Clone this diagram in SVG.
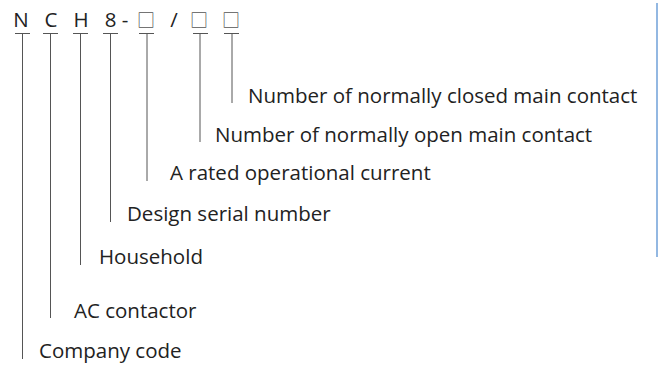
<svg xmlns="http://www.w3.org/2000/svg" width="658" height="367" viewBox="0 0 658 367">
<style>
.code{font-family:"Open Sans","Noto Sans",sans-serif;font-size:20.5px;fill:#222;text-anchor:middle}
.box{font-family:"Noto Sans CJK SC","DejaVu Sans",sans-serif;font-size:18px;fill:#555;text-anchor:middle}
.lbl{font-family:"Open Sans","Noto Sans",sans-serif;font-size:20.5px;fill:#222}
.ln{stroke:#555;stroke-width:1;fill:none}
</style>
<rect width="658" height="367" fill="#fff"/>
<g id="code">
<text class="code" x="21" y="27">N</text>
<text class="code" x="51" y="27">C</text>
<text class="code" x="81" y="27">H</text>
<text class="code" x="110.5" y="27">8</text>
<text class="code" x="125" y="27">-</text>
<text class="box" x="146" y="27">□</text>
<text class="code" x="174" y="27">/</text>
<text class="box" x="199" y="27">□</text>
<text class="box" x="231" y="27">□</text>
</g>
<g id="connectors">
<path class="ln" d="M15 33.5H30M22.5 33.5V359"/>
<path class="ln" d="M43 33.5H58M50.5 33.5V318"/>
<path class="ln" d="M73 33.5H88M80.5 33.5V265"/>
<path class="ln" d="M103 33.5H118M110.5 33.5V222"/>
<path class="ln" d="M139 33.5H154M147 33.5V181"/>
<path class="ln" d="M193 33.5H208M200 33.5V142"/>
<path class="ln" d="M224 33.5H239M232 33.5V103"/>
</g>
<g id="label-closed"><text class="lbl" x="248" y="103">Number of normally closed main contact</text></g>
<g id="label-open"><text class="lbl" x="215" y="142">Number of normally open main contact</text></g>
<g id="label-current"><text class="lbl" x="170" y="180">A rated operational current</text></g>
<g id="label-serial"><text class="lbl" x="127" y="221">Design serial number</text></g>
<g id="label-household"><text class="lbl" x="99" y="264">Household</text></g>
<g id="label-ac"><text class="lbl" x="74" y="318">AC contactor</text></g>
<g id="label-company"><text class="lbl" x="39" y="358">Company code</text></g>
<line x1="657" y1="3" x2="657" y2="257" stroke="#6fa1d9" stroke-width="1.5"/>
</svg>
